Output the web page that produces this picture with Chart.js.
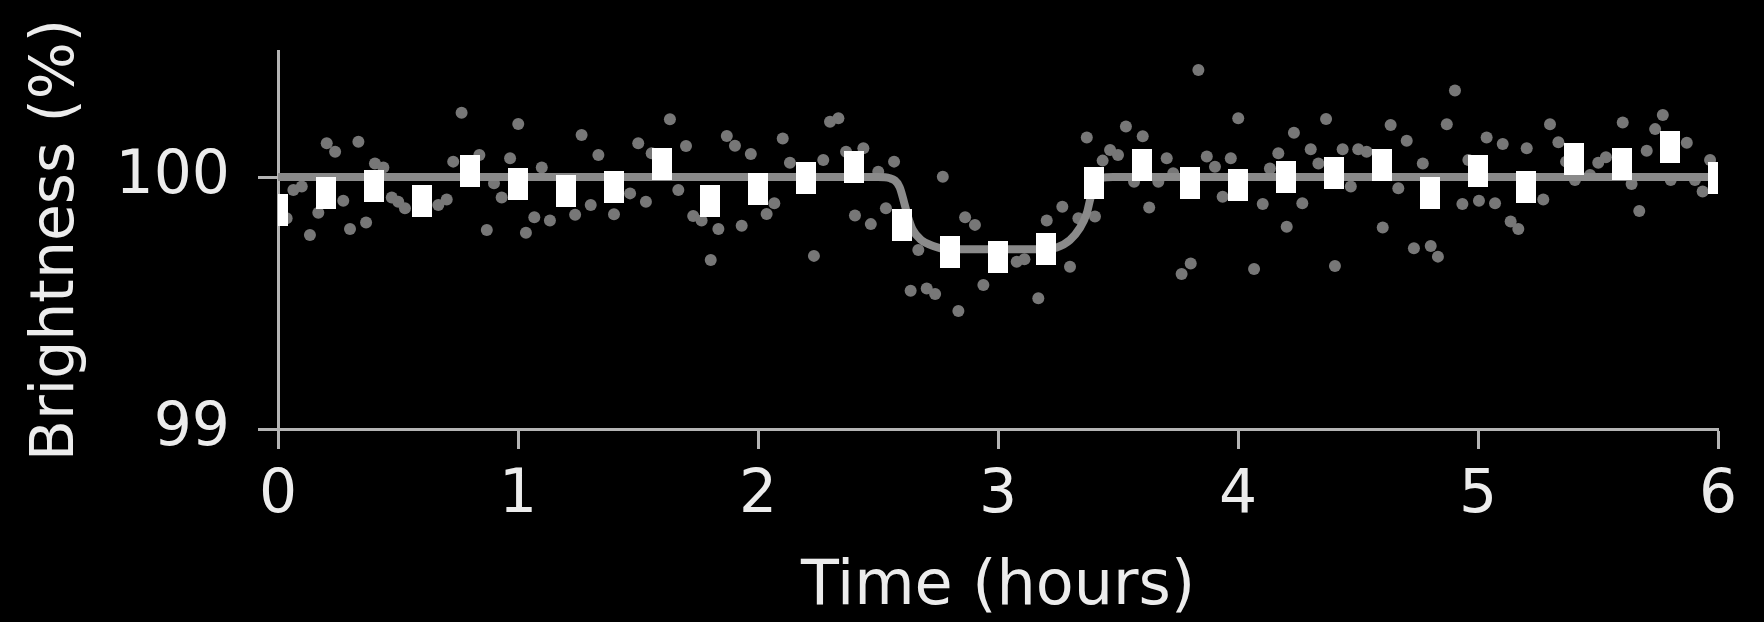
<!DOCTYPE html>
<html>
<head>
<meta charset="utf-8">
<script src="https://cdn.jsdelivr.net/npm/chart.js@4.4.1/dist/chart.umd.min.js"></script>
<style>
  html, body { margin: 0; padding: 0; background: #000; }
  #wrap { width: 1764px; height: 622px; }
</style>
</head>
<body>
<div id="wrap"><canvas id="lightCurve" width="1764" height="622"></canvas></div>
<script>
// Tick labels
const xTicks = [0, 1, 2, 3, 4, 5, 6];
const yTicks = [99, 100];

// Raw measurements (grey dots)
const dotHours = [
  0.036, 0.064, 0.099, 0.133, 0.168, 0.203, 0.238, 0.272, 0.300, 0.335, 0.367, 0.404, 0.439, 0.474, 0.501, 0.529,
  0.668, 0.703, 0.730, 0.765, 0.839, 0.870, 0.900, 0.932, 0.967, 1.001, 1.033, 1.068, 1.099, 1.133,
  1.238, 1.265, 1.303, 1.335, 1.400, 1.467, 1.501, 1.533, 1.557, 1.633, 1.668, 1.700, 1.730, 1.765, 1.803, 1.835,
  1.870, 1.904, 1.932, 1.970, 2.036, 2.068, 2.103, 2.133, 2.233, 2.272, 2.300, 2.335, 2.367, 2.404, 2.439, 2.470,
  2.501, 2.533, 2.567, 2.636, 2.668, 2.703, 2.738, 2.770, 2.835, 2.863, 2.904, 2.939, 3.078, 3.110, 3.168, 3.203,
  3.268, 3.300, 3.335, 3.370, 3.404, 3.436, 3.467, 3.500, 3.533, 3.567, 3.603, 3.630, 3.668, 3.703, 3.730, 3.765,
  3.803, 3.835, 3.870, 3.904, 3.936, 3.970, 4.001, 4.067, 4.103, 4.133, 4.168, 4.203, 4.233, 4.268, 4.303, 4.335,
  4.367, 4.404, 4.436, 4.470, 4.501, 4.536, 4.603, 4.636, 4.668, 4.703, 4.733, 4.770, 4.803, 4.833, 4.870, 4.904,
  4.935, 4.960, 5.004, 5.036, 5.071, 5.103, 5.136, 5.168, 5.203, 5.272, 5.300, 5.335, 5.367, 5.404, 5.467, 5.501,
  5.533, 5.603, 5.640, 5.672, 5.703, 5.738, 5.770, 5.803, 5.870, 5.904, 5.936, 5.967
];
const dotFlux = [
  99.836, 99.948, 99.962, 99.770, 99.858, 100.134, 100.100, 99.906, 99.794, 100.140, 99.819, 100.054, 100.038, 99.919, 99.902, 99.876,
  99.889, 99.911, 100.061, 100.255, 100.087, 99.790, 99.975, 99.919, 100.074, 100.210, 99.779, 99.840, 100.038, 99.827,
  99.850, 100.167, 99.889, 100.087, 99.852, 99.935, 100.134, 99.902, 100.094, 100.229, 99.948, 100.123, 99.845, 99.827, 99.671, 99.794,
  100.163, 100.124, 99.807, 100.091, 99.853, 99.896, 100.153, 100.057, 99.687, 100.067, 100.219, 100.233, 100.100, 99.847, 100.114, 99.813,
  100.021, 99.876, 100.061, 99.549, 99.710, 99.558, 99.536, 100.001, 99.468, 99.840, 99.810, 99.571, 99.664, 99.674, 99.519, 99.827,
  99.882, 99.644, 99.836, 100.157, 99.843, 100.065, 100.107, 100.087, 100.200, 99.981, 100.162, 99.879, 99.981, 100.074, 100.015, 99.615,
  99.657, 100.425, 100.081, 100.041, 99.922, 100.074, 100.233, 99.635, 99.893, 100.034, 100.094, 99.803, 100.176, 99.896, 100.110, 100.054,
  100.230, 99.647, 100.110, 99.962, 100.110, 100.100, 99.800, 100.206, 99.955, 100.144, 99.717, 100.054, 99.726, 99.684, 100.209, 100.343,
  99.893, 100.067, 99.906, 100.157, 99.896, 100.131, 99.823, 99.794, 100.114, 99.911, 100.209, 100.138, 100.061, 99.988, 100.008, 100.057,
  100.078, 100.216, 99.972, 99.865, 100.104, 100.190, 100.246, 99.988, 100.136, 99.988, 99.942, 100.067
];

// Binned averages (white blocks)
const binHours = [0, 0.2, 0.4, 0.6, 0.8, 1.0, 1.2, 1.4, 1.6, 1.8, 2.0, 2.2, 2.4, 2.6, 2.8, 3.0,
                  3.2, 3.4, 3.6, 3.8, 4.0, 4.2, 4.4, 4.6, 4.8, 5.0, 5.2, 5.4, 5.6, 5.8, 6.0];
const binFlux = [99.870, 99.938, 99.965, 99.906, 100.025, 99.972, 99.946, 99.959, 100.053, 99.906, 99.952, 99.995, 100.039, 99.810, 99.704, 99.682,
                 99.714, 99.976, 100.046, 99.975, 99.968, 99.999, 100.017, 100.046, 99.937, 100.025, 99.962, 100.072, 100.051, 100.118, 99.995];

// Transit model (grey curve)
const modelHours = [0, 2.50, 2.55, 2.59, 2.61, 2.625, 2.645, 2.68, 2.73, 2.79, 3.20, 3.245, 3.30, 3.34, 3.37, 3.385, 3.40, 3.43, 3.48, 6];
const modelFlux = [100, 100, 99.995, 99.96, 99.895, 99.842, 99.79, 99.75, 99.726, 99.713, 99.713, 99.72, 99.75, 99.796, 99.856, 99.915, 99.962, 99.995, 100, 100];

const zip = (xs, ys) => xs.map((x, i) => ({ x: x, y: ys[i] }));

// white block marker
const block = document.createElement('canvas');
block.width = 20;
block.height = 32;
const bctx = block.getContext('2d');
bctx.fillStyle = '#ffffff';
bctx.fillRect(0, 0, 20, 32);

const textColor = '#ececec';
const axisColor = '#b4b4b4';
const fontFamily = "'DejaVu Sans', sans-serif";

const ctx = document.getElementById('lightCurve').getContext('2d');
const chart = new Chart(ctx, {
    type: 'scatter',
    data: {
        datasets: [
            {
                label: 'Binned',
                data: zip(binHours, binFlux),
                pointStyle: block,
                pointRadius: 10,
                order: 0
            },
            {
                label: 'Model',
                data: zip(modelHours, modelFlux),
                showLine: true,
                borderColor: '#8a8a8a',
                borderWidth: 8,
                pointRadius: 0,
                cubicInterpolationMode: 'monotone',
                order: 1
            },
            {
                label: 'Data',
                data: zip(dotHours, dotFlux),
                backgroundColor: '#777777',
                borderWidth: 0,
                pointRadius: 6,
                order: 2
            }
        ]
    },
    options: {
        responsive: false,
        animation: false,
        events: [],
        layout: { padding: { top: 51, right: 46, left: 0, bottom: 0 } },
        plugins: {
            legend: { display: false },
            tooltip: { enabled: false }
        },
        scales: {
            x: {
                type: 'linear',
                min: 0,
                max: 6,
                afterBuildTicks: axis => { axis.ticks = xTicks.map(v => ({ value: v })); },
                afterFit: s => { s.height = 193; },
                grid: { drawOnChartArea: false, tickLength: 20, tickWidth: 3, tickColor: axisColor },
                border: { color: axisColor, width: 3 },
                ticks: { color: textColor, font: { family: fontFamily, size: 60 }, padding: 11, maxRotation: 0, autoSkip: false },
                title: {
                    display: true,
                    text: 'Time (hours)',
                    color: textColor,
                    font: { family: fontFamily, size: 62, lineHeight: 1.1 },
                    padding: { top: 0, bottom: 0 }
                }
            },
            y: {
                min: 99,
                max: 100.5,
                afterBuildTicks: axis => { axis.ticks = yTicks.map(v => ({ value: v })); },
                // fixed axis width; drop the label overhang padding so the top margin is ours
                afterFit: s => { s.width = 278; s.paddingTop = 0; s.paddingBottom = 0; },
                grid: { drawOnChartArea: false, tickLength: 20, tickWidth: 3, tickColor: axisColor },
                border: { color: axisColor, width: 3 },
                ticks: { color: textColor, font: { family: fontFamily, size: 60 }, padding: 28 },
                title: {
                    display: true,
                    text: 'Brightness (%)',
                    color: textColor,
                    font: { family: fontFamily, size: 60, lineHeight: 1.2 },
                    padding: { top: 21, bottom: 0 }
                }
            }
        }
    }
});
</script>
</body>
</html>
